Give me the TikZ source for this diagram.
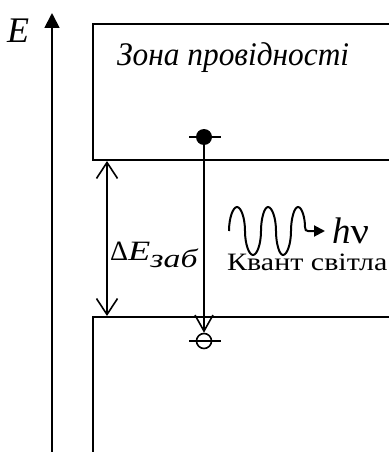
\documentclass[tikz,border=0pt]{standalone}
\usepackage{fontspec}
\setmainfont{Liberation Serif}
\usetikzlibrary{arrows.meta}
\begin{document}
\begin{tikzpicture}[x=1pt,y=-1pt,
  band/.style={line width=2.8pt, line cap=rect},
  thin/.style={line width=1.6pt},
  lbl/.style={inner sep=0pt}]
\useasboundingbox (0,0) rectangle (388,452);
% axis
\coordinate (axb) at (52,452);
\coordinate (axt) at (52,13);
\draw[line width=1.8pt,-{Triangle[length=15pt,width=15pt]}] (axb) -- (axt);
\node[lbl,anchor=base west,font=\fontsize{36}{40}\selectfont\itshape] (E) at (7,42) {E};
% bands
\draw[band] (390,24) -- (93,24) -- (93,160) -- (390,160);
\draw[band] (93,454) -- (93,317) -- (390,317);
\node[lbl,anchor=base west,font=\fontsize{33}{36}\selectfont\itshape] (cb) at (117,66) {\scalebox{0.95}[1]{Зона провідності}};
% electron and hole
\node[circle,fill=black,inner sep=0pt,minimum size=16pt] (el) at (204,137) {};
\draw[thin] (189,137) -- (221,137);
\node[circle,draw,line width=1.6pt,inner sep=0pt,minimum size=15pt] (hole) at (204,341) {};
\draw[thin] (189,341) -- (221,341);
\draw[thin,-{Straight Barb[length=16pt,width=18pt,line width=1.6pt]}] (el.center) -- (hole.north);
% gap arrow
\coordinate (gt) at (107,161);
\coordinate (gb) at (107,316);
\draw[thin,{Straight Barb[length=16pt,width=21pt,line width=1.6pt]}-{Straight Barb[length=16pt,width=21pt,line width=1.6pt]}] (gt) -- (gb);
\node[lbl,anchor=base west,font=\fontsize{28}{30}\selectfont] (dE) at (110,260) {Δ\scalebox{1.3}[1]{\textit{E}}\raisebox{-7pt}{\scalebox{1.3}[1]{\fontsize{26}{28}\selectfont\itshape заб}}};
% photon
\coordinate (ws) at (229,231);
\coordinate (wt) at (325,231);
\draw[line width=2pt,-{Triangle[length=11pt,width=11pt]}]
  (ws) .. controls (229,218) and (233,207) .. (237,207)
       .. controls (241,207) and (245,218) .. (245,231)
       .. controls (245,244) and (249,255) .. (253,255)
       .. controls (257,255) and (261,244) .. (261,231)
       .. controls (261,218) and (264.5,207) .. (268,207)
       .. controls (272,207) and (276,218) .. (276,231)
       .. controls (276,244) and (279.5,255) .. (283,255)
       .. controls (287,255) and (291,244) .. (291,231)
       .. controls (291,218) and (294.5,207) .. (298,207)
       .. controls (302,207) and (305,218) .. (305,227)
       .. controls (305,230) and (306,231) .. (308,231)
       -- (wt);
\node[lbl,anchor=base west,font=\fontsize{37}{40}\selectfont] (hv) at (332,243) {\textit{h}\scalebox{1.1}[1]{ν}};
\node[lbl,anchor=base west,font=\fontsize{25}{30}\selectfont] (kv) at (227,270) {\scalebox{1.2}[1]{Квант світла}};
\end{tikzpicture}
\end{document}
